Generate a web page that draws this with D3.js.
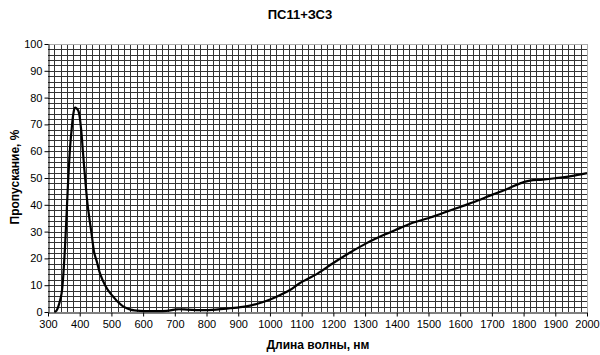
<!DOCTYPE html>
<html><head><meta charset="utf-8">
<script src="https://cdn.jsdelivr.net/npm/d3@7"></script>
<style>body{margin:0;background:#fff}svg{display:block}text{font-family:"Liberation Sans",Arial,sans-serif}</style>
</head><body><svg id="c" width="600" height="355"></svg>
<script>
const title = "ПС11+ЗС3";
const xLabel = "Длина волны, нм";
const yLabel = "Пропускание, %";
const wavelengths = [320,327,335,343,351,359,364,370,375,380,385,390,396,404,410,417,425,438,446,454,465,480,495,506,520,538,560,590,630,674,706,740,779,830,874,920,958,990,1021,1063,1095,1150,1200,1250,1305,1360,1410,1450,1499,1550,1600,1650,1700,1750,1789,1820,1860,1899,1950,2000];
const transmission = [0,0.5,3,7,18.8,37.4,50,62,68.7,74,76.2,76,75,68.7,60,50,40,28.7,22,18.8,14,10,7.2,5.7,3.8,2,0.9,0.4,0.3,0.4,1,0.9,0.7,0.9,1.4,2,3,4.2,5.7,8.2,10.8,14.3,18.3,22,25.7,28.8,31.3,33.3,35,37.1,39.2,41.3,43.7,46,48,49,49.4,49.9,50.7,51.8];
const xTicks = d3.range(300, 2001, 100);
const yTicks = d3.range(0, 101, 10);

const svg = d3.select("#c");
const m = {l:48, r:587, t:44, b:312};
const x = d3.scaleLinear().domain([300,2000]).range([m.l, m.r]);
const y = d3.scaleLinear().domain([0,100]).range([m.b, m.t]);

const g = svg.append("g");
// grid
d3.range(320, 2000, 20).forEach(v => {
  g.append("line").attr("x1", Math.round(x(v))+0.5).attr("x2", Math.round(x(v))+0.5)
   .attr("y1", m.t).attr("y2", m.b).attr("stroke","#333").attr("stroke-width",1);
});
d3.range(2, 100, 2).forEach(v => {
  g.append("line").attr("y1", Math.round(y(v))+0.5).attr("y2", Math.round(y(v))+0.5)
   .attr("x1", m.l).attr("x2", m.r).attr("stroke","#333").attr("stroke-width",1);
});
// border top/right
g.append("line").attr("x1", m.l).attr("x2", m.r).attr("y1", Math.round(y(100))+0.5).attr("y2", Math.round(y(100))+0.5).attr("stroke","#aaa");
g.append("line").attr("x1", Math.round(x(2000))+0.5).attr("x2", Math.round(x(2000))+0.5).attr("y1", m.t).attr("y2", m.b).attr("stroke","#aaa");

// axes
const xAxis = svg.append("g").attr("transform", `translate(0,${Math.round(m.b)+0.5})`)
  .call(d3.axisBottom(x).tickValues(xTicks).tickSize(4).tickSizeOuter(0).tickFormat(d3.format("d")));
const yAxis = svg.append("g").attr("transform", `translate(${Math.round(m.l)+0.5},0)`)
  .call(d3.axisLeft(y).tickValues(yTicks).tickSize(4).tickSizeOuter(0).tickFormat(d3.format("d")));
[xAxis, yAxis].forEach(a => {
  a.select(".domain").attr("stroke","#000");
  a.selectAll(".tick line").attr("stroke","#000");
  a.selectAll("text").attr("fill","#000").style("font-size","11px").style("font-family","'Liberation Sans',Arial,sans-serif");
});
xAxis.selectAll("text").attr("dy","0.9em").attr("y",6);
yAxis.selectAll("text").attr("x",-6);

// line
const line = d3.line().x((d,i)=>x(wavelengths[i])).y(d=>y(d)).curve(d3.curveCatmullRom.alpha(0.5));
svg.append("path").datum(transmission).attr("d", line).attr("fill","none").attr("stroke","#000").attr("stroke-width",2.2).attr("stroke-linejoin","round");

svg.append("text").attr("x",300).attr("y",19).attr("text-anchor","middle").style("font-size","13px").style("font-weight","bold").text(title);
svg.append("text").attr("x",318).attr("y",349).attr("text-anchor","middle").style("font-size","12px").style("font-weight","bold").text(xLabel);
svg.append("text").attr("transform","translate(19,177) rotate(-90)").attr("text-anchor","middle").style("font-size","12px").style("font-weight","bold").text(yLabel);
</script></body></html>
